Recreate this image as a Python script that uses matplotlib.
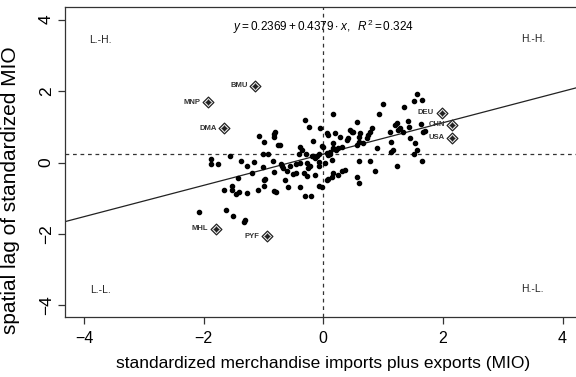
import matplotlib
matplotlib.use("Agg")
import matplotlib.pyplot as plt

plt.rcParams['font.family'] = ['Liberation Sans', 'DejaVu Sans']
plt.rcParams['mathtext.fontset'] = 'custom'
plt.rcParams['mathtext.rm'] = 'Liberation Sans'
plt.rcParams['mathtext.it'] = 'Liberation Sans:italic'

# ordinary countries (standardized MIO, spatial lag)
mio_x = [-0.31, -0.24, -0.06, -1.08, -0.82, -0.80, -0.82, -1.00, -0.75, -0.72,
         -0.17, -0.39, -0.36, -0.41, -0.29, -0.19, -0.17, -0.14, -0.11, -0.08,
         -0.03, -0.01, -1.87, -1.88, -1.76, -1.56, -1.38, -1.28, -1.16, -1.01,
         -0.92, -1.01, -0.84, -0.71, -0.69, -0.68, -0.61, -0.56, -0.45, -0.39,
         -0.28, -0.25, -0.22, -0.08, -0.07, -1.42, -1.20, -0.98, -0.99, -0.82,
         -0.64, -0.50, -0.45, -0.32, -0.28, -0.14, -1.66, -1.53, -1.52, -1.46,
         -1.41, -1.27, -1.10, -0.99, -0.82, -0.79, -0.59, -0.39, -0.31, -0.21,
         -0.08, -0.03, -2.08, -1.63, -1.51, -1.31, -1.32,
         1.57, 1.65, 1.52, 0.99, 1.35, 0.93, 0.17, 0.56, 1.23, 1.20,
         1.41, 1.28, 1.25, 1.34, 1.44, 1.63, 1.66, 1.70, 1.12, 1.14,
         1.17, 1.14, 1.23, 1.53, 1.56, 1.52, 1.65, 1.45, 0.89, 0.81,
         0.78, 0.75, 0.73, 0.67, 0.61, 0.59, 0.60, 0.56, 0.45, 0.48,
         0.50, 0.42, 0.39, 0.28, 0.31, 0.25, 0.22, 0.17, 0.17, 0.11,
         0.08, 0.14, 0.06, 0.08, 0.20, 0.03, 0.06, 0.08, 0.14, 0.17,
         0.25, 0.31, 0.36, 0.59, 0.78, 0.87, 0.56, 0.59, 0.06, 0.12]
mio_lag = [1.19, 1.00, 0.96, 0.74, 0.81, 0.84, 0.71, 0.56, 0.48, 0.48,
           0.61, 0.43, 0.35, 0.25, 0.23, 0.18, 0.17, 0.13, 0.18, 0.23,
           0.46, 0.43, 0.09, -0.04, -0.05, 0.19, 0.04, -0.11, 0.01, 0.23,
           0.23, -0.13, 0.03, -0.05, -0.10, -0.15, -0.25, -0.11, -0.05, -0.02,
           0.00, -0.16, -0.11, 0.01, -0.11, -0.43, -0.30, -0.45, -0.49, -0.27,
           -0.49, -0.33, -0.30, -0.30, -0.39, -0.35, -0.77, -0.67, -0.78, -0.87,
           -0.83, -0.86, -0.78, -0.67, -0.79, -0.82, -0.69, -0.69, -0.93, -0.95,
           -0.65, -0.69, -1.38, -1.33, -1.50, -1.60, -1.66,
           1.92, 1.75, 1.73, 1.64, 1.56, 1.35, 1.35, 1.14, 1.10, 1.05,
           1.16, 0.96, 0.91, 0.86, 1.00, 1.08, 0.84, 0.88, 0.86, 0.58,
           0.35, 0.30, -0.10, 0.54, 0.35, 0.24, 0.03, 0.68, 0.40, 0.96,
           0.86, 0.77, 0.68, 0.54, 0.82, 0.72, 0.58, 0.49, 0.91, 0.86,
           0.84, 0.68, 0.63, 0.72, 0.44, 0.40, 0.35, 0.54, 0.40, 0.30,
           0.21, 0.07, 0.82, 0.77, 0.82, -0.02, -0.49, -0.47, -0.40, -0.30,
           -0.35, -0.25, -0.21, 0.03, 0.03, -0.25, -0.41, -0.58, 0.27, 0.25]

# influential countries
infl_codes = ["BMU", "MNP", "DMA", "MHL", "PYF", "DEU", "CHN", "USA"]
infl_x = [-1.14, -1.92, -1.66, -1.80, -0.94, 1.98, 2.16, 2.16]
infl_lag = [2.15, 1.69, 0.96, -1.86, -2.07, 1.39, 1.06, 0.69]

intercept = 0.2369
slope = 0.4379
mean_lag = 0.2369

quad_names = ["L.-H.", "H.-H.", "L.-L.", "H.-L."]
quad_x = [-3.73, 3.51, -3.73, 3.50]
quad_y = [3.43, 3.45, -3.56, -3.54]

fig = plt.figure(figsize=(5.76, 3.77), dpi=100)
ax = fig.add_axes([0.1128, 0.1584, 0.897, 0.823])

ax.scatter(mio_x, mio_lag, s=9, color='black', zorder=3)
ax.scatter(infl_x, infl_lag, s=30, marker='D', facecolor='white',
           edgecolor='#222222', linewidth=0.9, zorder=4)
ax.scatter(infl_x, infl_lag, s=24, marker='+', color='#222222',
           linewidth=0.9, zorder=5)
ax.scatter(infl_x, infl_lag, s=5, color='#222222', zorder=5)
for code, xx, yy in zip(infl_codes, infl_x, infl_lag):
    ax.annotate(code, (xx, yy), xytext=(-5.5, 0), textcoords='offset points',
                ha='right', va='center', fontsize=5.5, fontweight='bold',
                color='#333333')

ax.axline((0, intercept), slope=slope, color='#222222', linewidth=0.9)
ax.axhline(mean_lag, color='#333333', linestyle=(0, (3, 3)), linewidth=0.9)
ax.axvline(0, color='#333333', linestyle=(0, (3, 3)), linewidth=0.9)

ax.text(0, 3.79, r"$y = 0.2369 + 0.4379 \cdot x,\ \ R^2 = 0.324$",
        ha='center', va='center', fontsize=8.5)
for name, qx, qy in zip(quad_names, quad_x, quad_y):
    ax.text(qx, qy, name, ha='center', va='center', fontsize=7.5, color='#222222')

ax.set_xlim(-4.32, 4.32)
ax.set_ylim(-4.33, 4.35)
ax.set_xticks([-4, -2, 0, 2, 4])
ax.set_yticks([-4, -2, 0, 2, 4])
ax.set_xticklabels(["\u22124", "\u22122", "0", "2", "4"])
ax.set_yticklabels(["\u22124", "\u22122", "0", "2", "4"], rotation=90, va='center')
ax.tick_params(length=5, width=0.9, color='#333333')
ax.tick_params(axis='x', labelsize=11.5, pad=5)
ax.tick_params(axis='y', labelsize=12.5, pad=3)
for sp in ax.spines.values():
    sp.set_color('#333333')
    sp.set_linewidth(0.9)

ax.set_xlabel("standardized merchandise imports plus exports (MIO)", fontsize=12.5, labelpad=7)
ax.set_ylabel("spatial lag of standardized MIO", fontsize=15)
ax.yaxis.set_label_coords(-0.087, 0.41)

fig.savefig("out.png", dpi=100)
